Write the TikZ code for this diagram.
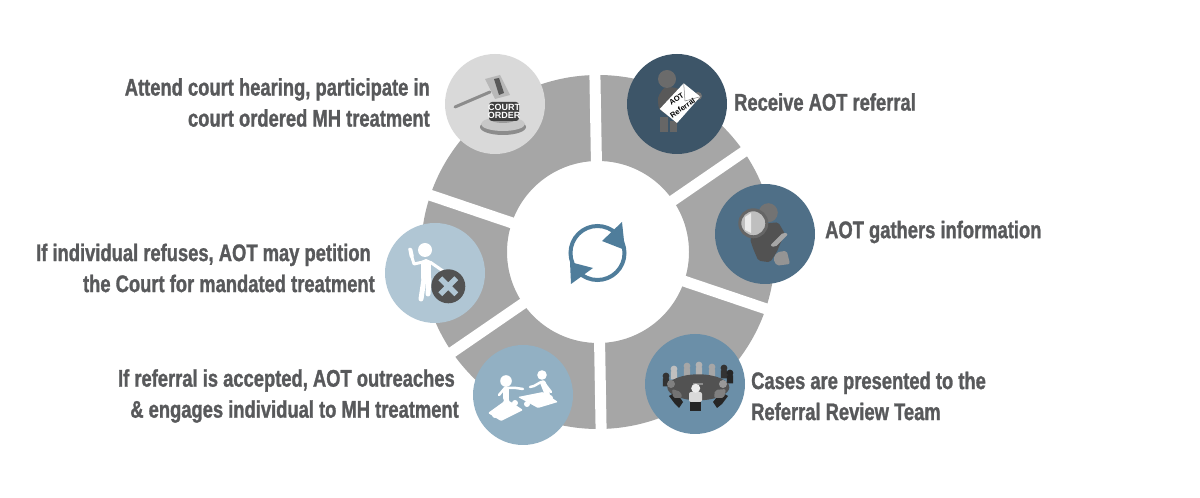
\documentclass[tikz,border=0pt]{standalone}
\usepackage{fontspec}
\usepackage{tikz}
\usetikzlibrary{calc, positioning}
\newfontfamily\labelfont[FakeStretch=0.765, FakeBold=1.2]{Liberation Sans Bold}
\setmainfont{Liberation Sans}
\definecolor{ringgray}{HTML}{A6A6A6}
\definecolor{textgray}{HTML}{58595B}
\definecolor{loopblue}{HTML}{4F7D9B}
\definecolor{courtfill}{HTML}{D9D9D9}
\definecolor{receivefill}{HTML}{3D5568}
\definecolor{gatherfill}{HTML}{4F6F87}
\definecolor{reviewfill}{HTML}{6B8FA8}
\definecolor{acceptfill}{HTML}{92B0C3}
\definecolor{refusefill}{HTML}{B0C6D4}
\tikzset{
    disc/.style={circle, minimum size=100pt, inner sep=0pt},
    lefttext/.style={anchor=east, align=right, inner sep=0pt, text=textgray, font={\labelfont\fontsize{24}{31}\selectfont}},
    righttext/.style={anchor=west, align=left, inner sep=0pt, text=textgray, font={\labelfont\fontsize{24}{31}\selectfont}},
    limb/.style={line cap=round, line join=round, draw=white},
}
\begin{document}
\begin{tikzpicture}[x=1pt, y=1pt]
    \useasboundingbox (0, 0) rectangle (1200, 498);
    \coordinate (hub) at (598, 246);
    % ring and its gaps
    \fill[ringgray, even odd rule] (hub) circle (177) (hub) circle (91);
    \foreach \a in {91, 34.5, -18.7, -89, 214.5, 161.3}
        \draw[white, line width=11pt] ($(hub)+(\a:85)$) -- ($(hub)+(\a:185)$);
    % loop in the middle
    \draw[loopblue, line width=4pt] (597.5, 245) circle (27);
    \fill[loopblue] (622, 276) -- (602, 257) -- (625, 248) -- cycle;
    \fill[loopblue] (571, 214) -- (593, 230) -- (570, 236) -- cycle;
    % discs
    \node[disc, fill=courtfill] (court) at (495, 394) {};
    \node[disc, fill=receivefill] (receive) at (677, 394) {};
    \node[disc, fill=gatherfill] (gather) at (765, 264) {};
    \node[disc, fill=reviewfill] (review) at (695, 114) {};
    \node[disc, fill=acceptfill] (accept) at (523, 103) {};
    \node[disc, fill=refusefill] (refuse) at (435, 225) {};
    % labels
    \node[lefttext] (courttext) at (430, 395.5) {Attend court hearing, participate in\\court ordered MH treatment};
    \node[righttext] (receivetext) at (734, 396) {Receive AOT referral};
    \node[righttext] (gathertext) at (825, 266) {AOT gathers information};
    \node[righttext] (reviewtext) at (751, 102) {Cases are presented to the\\Referral Review Team};
    \node[lefttext] (accepttext) at (459, 102) {If referral is accepted, AOT outreaches\hspace*{4pt}\\\& engages individual to MH treatment};
    \node[lefttext] (refusetext) at (375, 230) {If individual refuses, AOT may petition\hspace*{4pt}\\the Court for mandated treatment};
    % gavel
    \begin{scope}[shift={(court.center)}]
        \draw[black!45, line width=3pt, line cap=round] (-40, -3) -- (-5, 12);
        \fill[black!28] (-10, 25) -- (5, 29) -- (15, 9) -- (0, 5) -- cycle;
        \fill[black!65] (-1, 25) -- (4, 26) -- (9, 11) -- (4, 9) -- cycle;
        \fill[black!45] (8, -23) ellipse (23 and 8);
        \fill[black!22] (8, -20) ellipse (22 and 7);
        \fill[black!40] (8, -15) ellipse (13 and 4);
        \fill[black!75, rounded corners=3pt] (-6, -17) rectangle (24, 2);
        \node[inner sep=0pt, text=white, font=\bfseries\fontsize{9}{9}\selectfont, align=center] (courtorder) at (9, -7.5) {COURT\\[-0.5pt]ORDER};
    \end{scope}
    % person with envelope
    \begin{scope}[shift={(receive.center)}]
        \fill[black!65, rounded corners=3pt] (-19.3, 6.7) -- (-13, 16.7) -- (-3, 16.7) -- (6.7, 13.3) -- (-6.7, -13.3) -- (-18.3, -5) -- cycle;
        \fill[black!58] (-10, 25) circle (9);
        \fill[black!60] (-16.7, -13.3) rectangle (-9.3, -28.3);
        \fill[black!60] (-7.3, -16.7) rectangle (0, -28.3);
        \fill[black!55] (21, 8) circle (4);
        \fill[white] (6.7, 20.7) -- (23.3, 7.3) -- (0, -19) -- (-17.3, -5) -- cycle;
        \draw[black!50, line width=0.5pt] (6.7, 20.7) -- (8, 3) -- (23.3, 7.3);
        \node[inner sep=0pt, rotate=34, align=center, font=\bfseries\fontsize{7.5}{11}\selectfont] (envelope) at (2.5, 0.3) {AOT\\Referral};
    \end{scope}
    % person with magnifier
    \begin{scope}[shift={(gather.center)}]
        \fill[black!55] (3.3, 21.3) circle (9.5);
        \fill[black!68, rounded corners=2pt] (-6.7, 10) -- (13.3, 11.7) -- (20, 0) -- (15, -10) -- (11.7, -18.3) -- (5, -28.3) -- (-6.7, -26.7) -- (-11.7, -15) -- (-15, -5) -- cycle;
        \fill[black!42, rounded corners=2pt] (11.7, -18.3) -- (21.7, -16.7) -- (25, -30) -- (11.7, -31.7) -- (8.3, -25) -- cycle;
        \fill[black!35, rounded corners=2pt] (5, -11.7) -- (18.3, 1.7) -- (23.3, 0) -- (10, -13.3) -- cycle;
        \draw[black!60, fill=black!25, line width=3pt] (-11.7, 10.7) circle (13.5);
        \fill[black!8] (-20, 17) -- (-14, 21) -- (-14, 1) -- (-20, 4) -- cycle;
    \end{scope}
    % round table meeting
    \begin{scope}[shift={(review.center)}]
        \foreach \px/\py/\shade in {-21/15/25, -8/18/35, 4/19/30, 17/17/35, 29/16/80, 35/11/85, -29/8/80}
            \fill[black!\shade] (\px, \py) circle (3.4) ++(-3.2, -2.5) rectangle ++(6.4, -8);
        \fill[black!68] (3.3, -3.3) ellipse (31 and 13);
        \fill[black!45] (-2, 1) rectangle (8, -1);
        \fill[black!85] (-26, -12) -- (-19, -8) -- (-12, -18) -- (-16, -24) -- (-20, -20) -- cycle;
        \fill[black!85] (33, -12) -- (26, -8) -- (18, -18) -- (22, -24) -- (27, -20) -- cycle;
        \fill[black!55, rounded corners=2pt] (-23, -5) -- (-14, -8) -- (-13, -14) -- (-22, -14) -- cycle;
        \fill[black!50, rounded corners=2pt] (31, -5) -- (20, -6) -- (19, -14) -- (29, -14) -- cycle;
        \fill[black!50] (-24, 0) circle (4);
        \fill[black!40] (28, 0) circle (4);
        \fill[black!85] (-5, -15) rectangle (6, -27);
        \fill[black!15, rounded corners=2pt] (-6, -8) rectangle (7, -18);
        \fill[black!8] (0.7, -4.3) circle (4.5);
    \end{scope}
    % two people on puzzle pieces
    \begin{scope}[shift={(accept.center)}]
        \fill[white, rounded corners=1pt] (-35, -18) -- (-17, -5) -- (-12, -7) -- (0, -15) -- (-22, -26) -- cycle;
        \fill[white] (-28, -20) circle (3) (-8, -8) circle (3);
        \fill[white, rounded corners=1pt] (-5, -2) -- (20, 3) -- (35, -7) -- (15, -13) -- cycle;
        \fill[white] (4, -9) circle (3) (27, -3) circle (3);
        \fill[white] (-17, 14) circle (5.8);
        \fill[white] (19, 20) circle (4.8);
        \draw[limb, line width=6pt] (-17, 6) -- (-17, -3);
        \draw[limb, line width=3pt] (-17, -3) -- (-20, -14) (-16, -3) -- (-13, -14);
        \draw[limb, line width=2.5pt] (-15, 7) -- (-7, 7) -- (0, 6) (-19, 6) -- (-24, 0);
        \draw[limb, line width=5.5pt] (20, 12) -- (24, 2);
        \draw[limb, line width=3pt] (24, 2) -- (19, -8) (24, 2) -- (29, -5);
        \draw[limb, line width=2.5pt] (18, 13) -- (11, 9) -- (7, 8) (21, 12) -- (28, 3);
    \end{scope}
    % person beside the cross
    \begin{scope}[shift={(refuse.center)}]
        \fill[white] (-10, 23) circle (7);
        \draw[limb, line width=10pt] (-9, 9) -- (-9, -5);
        \draw[limb, line width=5pt] (-11, -6) -- (-14, -26) (-6, -6) -- (-7, -21);
        \draw[limb, line width=3pt] (-12, 11) -- (-21, 9) -- (-24, 19) (-5, 11) -- (8, 2);
        \fill[white, rounded corners=1pt] (-27, 25) -- (-23, 25) -- (-21, 16) -- (-25, 15) -- cycle;
        \fill[black!68] (13.3, -13.3) circle (17);
        \draw[refusefill, line width=5.5pt] (5.3, -5.3) -- (21.3, -21.3) (21.3, -5.3) -- (5.3, -21.3);
    \end{scope}
\end{tikzpicture}
\end{document}
